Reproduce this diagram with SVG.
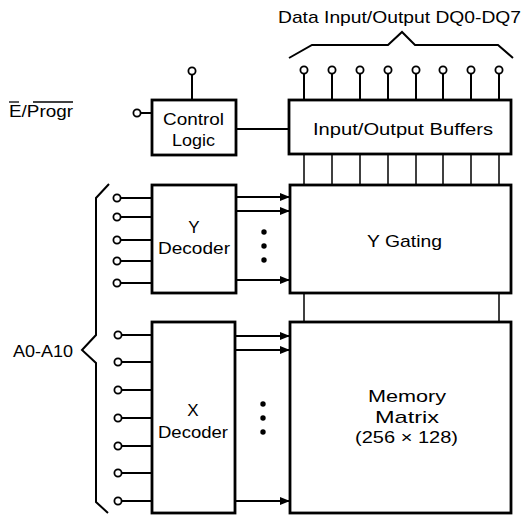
<svg xmlns="http://www.w3.org/2000/svg" width="526" height="515" viewBox="0 0 526 515">
<defs>
<style>
.box{fill:#fff;stroke:#000;stroke-width:2.8}
.ln{fill:none;stroke:#000;stroke-width:2}
.pin{fill:#fff;stroke:#000;stroke-width:1.8}
.dot{fill:#000}
text{font-family:"Liberation Sans",Arial,Helvetica,sans-serif;font-size:17px;fill:#000}
</style>
<marker id="ah" viewBox="0 0 10 8" refX="10" refY="4" markerWidth="10" markerHeight="8" markerUnits="userSpaceOnUse" orient="auto">
<path d="M0,0 L10,4 L0,8 Z" fill="#000"/>
</marker>
</defs>
<rect width="526" height="515" fill="#fff"/>

<g id="labels">
<text x="278" y="23" textLength="243" lengthAdjust="spacingAndGlyphs">Data Input/Output  DQ0-DQ7</text>
<text x="9" y="117" textLength="64" lengthAdjust="spacingAndGlyphs">E/Progr</text>
<line x1="9" y1="102" x2="19" y2="102" stroke="#000" stroke-width="1.3"/>
<line x1="33" y1="102" x2="73" y2="102" stroke="#000" stroke-width="1.3"/>
<text x="13" y="357" textLength="60" lengthAdjust="spacingAndGlyphs">A0-A10</text>
</g>

<g id="connectors">
<path class="ln" d="M289,58 L312,45 L388,45 L402,32 L415,45 L498,45 L513,58"/>
<path class="ln" d="M109,184 L96,198 L96,335 L82,350 L96,363 L96,502 L108,513"/>
<line class="ln" x1="192" y1="75" x2="192" y2="100"/>
<line class="ln" x1="141" y1="113" x2="152" y2="113"/>
<line class="ln" x1="236" y1="129" x2="289" y2="129"/>
<g class="ln">
<line x1="304" y1="74" x2="304" y2="100"/>
<line x1="332" y1="74" x2="332" y2="100"/>
<line x1="360" y1="74" x2="360" y2="100"/>
<line x1="388" y1="74" x2="388" y2="100"/>
<line x1="416" y1="74" x2="416" y2="100"/>
<line x1="443" y1="74" x2="443" y2="100"/>
<line x1="471" y1="74" x2="471" y2="100"/>
<line x1="499" y1="74" x2="499" y2="100"/>
</g>
<g stroke="#000" stroke-width="1.5">
<line x1="304" y1="154" x2="304" y2="185"/>
<line x1="332" y1="154" x2="332" y2="185"/>
<line x1="360" y1="154" x2="360" y2="185"/>
<line x1="388" y1="154" x2="388" y2="185"/>
<line x1="416" y1="154" x2="416" y2="185"/>
<line x1="443" y1="154" x2="443" y2="185"/>
<line x1="471" y1="154" x2="471" y2="185"/>
<line x1="499" y1="154" x2="499" y2="185"/>
<line x1="304" y1="293" x2="304" y2="322"/>
<line x1="499" y1="293" x2="499" y2="322"/>
</g>
<g class="ln">
<line x1="121" y1="198" x2="152" y2="198"/>
<line x1="121" y1="217" x2="152" y2="217"/>
<line x1="121" y1="240" x2="152" y2="240"/>
<line x1="121" y1="261" x2="152" y2="261"/>
<line x1="121" y1="283" x2="152" y2="283"/>
</g>
<g class="ln">
<line x1="122" y1="335" x2="152" y2="335"/>
<line x1="122" y1="362" x2="152" y2="362"/>
<line x1="122" y1="390" x2="152" y2="390"/>
<line x1="122" y1="418" x2="152" y2="418"/>
<line x1="122" y1="446" x2="152" y2="446"/>
<line x1="122" y1="473" x2="152" y2="473"/>
<line x1="122" y1="501" x2="152" y2="501"/>
</g>
<g class="ln" marker-end="url(#ah)">
<line x1="236" y1="197" x2="290" y2="197"/>
<line x1="236" y1="211" x2="290" y2="211"/>
<line x1="236" y1="280" x2="290" y2="280"/>
<line x1="235" y1="336" x2="290" y2="336"/>
<line x1="235" y1="350" x2="290" y2="350"/>
<line x1="235" y1="501" x2="290" y2="501"/>
</g>
<circle class="dot" cx="264" cy="232" r="2.7"/>
<circle class="dot" cx="264" cy="246" r="2.7"/>
<circle class="dot" cx="264" cy="260" r="2.7"/>
<circle class="dot" cx="263" cy="404" r="2.7"/>
<circle class="dot" cx="263" cy="418" r="2.7"/>
<circle class="dot" cx="263" cy="432" r="2.7"/>
<g class="pin">
<circle cx="192" cy="71" r="3.6"/>
<circle cx="137" cy="113" r="3.6"/>
<circle cx="304" cy="70" r="3.6"/>
<circle cx="332" cy="70" r="3.6"/>
<circle cx="360" cy="70" r="3.6"/>
<circle cx="388" cy="70" r="3.6"/>
<circle cx="416" cy="70" r="3.6"/>
<circle cx="443" cy="70" r="3.6"/>
<circle cx="471" cy="70" r="3.6"/>
<circle cx="499" cy="70" r="3.6"/>
<circle cx="117" cy="198" r="3.6"/>
<circle cx="117" cy="217" r="3.6"/>
<circle cx="117" cy="240" r="3.6"/>
<circle cx="117" cy="261" r="3.6"/>
<circle cx="117" cy="283" r="3.6"/>
<circle cx="118" cy="335" r="3.6"/>
<circle cx="118" cy="362" r="3.6"/>
<circle cx="118" cy="390" r="3.6"/>
<circle cx="118" cy="418" r="3.6"/>
<circle cx="118" cy="446" r="3.6"/>
<circle cx="118" cy="473" r="3.6"/>
<circle cx="118" cy="501" r="3.6"/>
</g>
</g>

<g id="control-logic">
<rect class="box" x="152" y="100" width="84" height="55"/>
<text x="163" y="125" textLength="61" lengthAdjust="spacingAndGlyphs">Control</text>
<text x="172" y="146" textLength="43" lengthAdjust="spacingAndGlyphs">Logic</text>
</g>

<g id="io-buffers">
<rect class="box" x="289" y="100" width="222" height="54"/>
<text x="313" y="135" textLength="180" lengthAdjust="spacingAndGlyphs">Input/Output Buffers</text>
</g>

<g id="y-decoder">
<rect class="box" x="152" y="185" width="84" height="108"/>
<text x="194" y="233" text-anchor="middle">Y</text>
<text x="158" y="254" textLength="72" lengthAdjust="spacingAndGlyphs">Decoder</text>
</g>

<g id="y-gating">
<rect class="box" x="290" y="185" width="221" height="108"/>
<text x="367" y="247" textLength="75" lengthAdjust="spacingAndGlyphs">Y Gating</text>
</g>

<g id="x-decoder">
<rect class="box" x="152" y="322" width="83" height="191"/>
<text x="193" y="416" text-anchor="middle">X</text>
<text x="158" y="438" textLength="70" lengthAdjust="spacingAndGlyphs">Decoder</text>
</g>

<g id="memory-matrix">
<rect class="box" x="290" y="322" width="221" height="191"/>
<text x="368" y="402" textLength="78" lengthAdjust="spacingAndGlyphs">Memory</text>
<text x="375" y="423" textLength="64" lengthAdjust="spacingAndGlyphs">Matrix</text>
<text x="355" y="443" textLength="103" lengthAdjust="spacingAndGlyphs">(256 × 128)</text>
</g>
</svg>
